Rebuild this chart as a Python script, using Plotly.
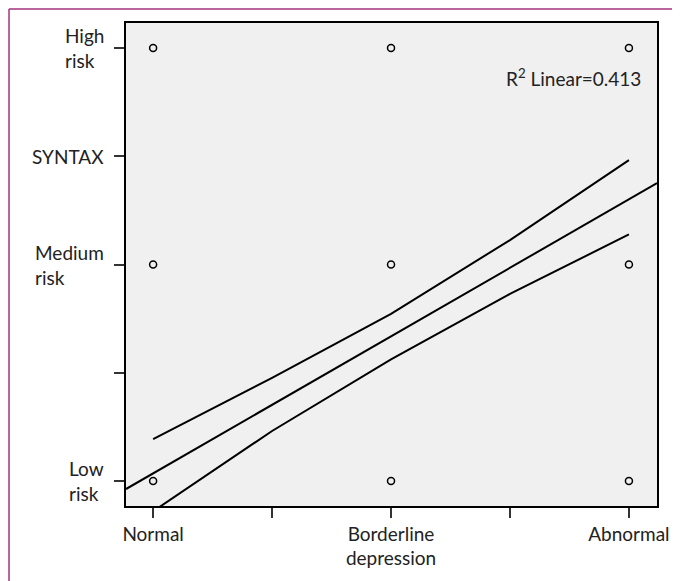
import plotly.graph_objects as go

# Data
x_tick_vals = [1, 1.5, 2, 2.5, 3]
x_tick_text = ["Normal", "", "Borderline<br>depression", "", "Abnormal"]
y_tick_vals = [1, 1.5, 2, 2.5, 3]
y_tick_text = ["Low<br>risk", "", "Medium<br>risk", "SYNTAX", "High<br>risk"]

point_x = [1, 1, 1, 2, 2, 2, 3, 3, 3]
point_y = [1, 2, 3, 1, 2, 3, 1, 2, 3]

fit_x = [0.886, 3.118]
fit_y = [0.963, 2.376]

ci_x = [1, 1.5, 2, 2.5, 3]
ci_upper = [1.193, 1.476, 1.772, 2.113, 2.482]
ci_lower = [0.860, 1.231, 1.562, 1.864, 2.139]

r2_text = "R<sup>2</sup> Linear=0.413"

FONT = "Lato, 'Open Sans', sans-serif"
FSIZE = 19
line_style = dict(color="black", width=2)
BORDER = dict(color="#a4327f", width=1.5)

fig = go.Figure()
fig.add_trace(go.Scatter(x=fit_x, y=fit_y, mode="lines", line=line_style, hoverinfo="skip"))
fig.add_trace(go.Scatter(x=ci_x, y=ci_upper, mode="lines", line=line_style, hoverinfo="skip"))
fig.add_trace(go.Scatter(x=ci_x, y=ci_lower, mode="lines", line=line_style, hoverinfo="skip"))
fig.add_trace(go.Scatter(
    x=point_x, y=point_y, mode="markers",
    marker=dict(symbol="circle-open", size=7, color="black", line=dict(width=1.5)),
))

axis_common = dict(
    showgrid=False, zeroline=False, showline=True, linecolor="black", linewidth=1.5,
    mirror=True, ticks="outside", ticklen=10, tickwidth=1.5, tickcolor="#333",
)

fig.update_xaxes(
    range=[0.886, 3.118], tickmode="array", tickvals=x_tick_vals, ticktext=x_tick_text,
    tickfont=dict(family=FONT, size=FSIZE, color="#222"), **axis_common,
)
fig.update_yaxes(
    range=[0.8845, 3.1155], tickmode="array", tickvals=y_tick_vals,
    ticktext=[""] * len(y_tick_vals), **axis_common,
)

annotations = []
for v, t in zip(y_tick_vals, y_tick_text):
    if t:
        annotations.append(dict(
            x=0, y=v, xref="paper", yref="y", text=t, showarrow=False,
            xanchor="right", yanchor="middle", align="left", xshift=-20,
            font=dict(family=FONT, size=FSIZE, color="#222"),
        ))
annotations.append(dict(
    x=0.9736, y=0.888, xref="paper", yref="paper", text=r2_text, showarrow=False,
    xanchor="right", yanchor="middle", font=dict(family=FONT, size=FSIZE, color="#222"),
))

fig.update_layout(
    width=680, height=581,
    margin=dict(l=118, r=31, t=15, b=83),
    plot_bgcolor="#f0f0f0", paper_bgcolor="white",
    showlegend=False,
    annotations=annotations,
    shapes=[
        dict(type="line", xref="paper", yref="paper",
             x0=-0.2203, x1=-0.2203, y0=-0.3, y1=1.029, line=BORDER, layer="below"),
        dict(type="line", xref="paper", yref="paper",
             x0=-0.2203, x1=1.3, y0=1.029, y1=1.029, line=BORDER, layer="below"),
    ],
)

fig.write_html("out.html")
